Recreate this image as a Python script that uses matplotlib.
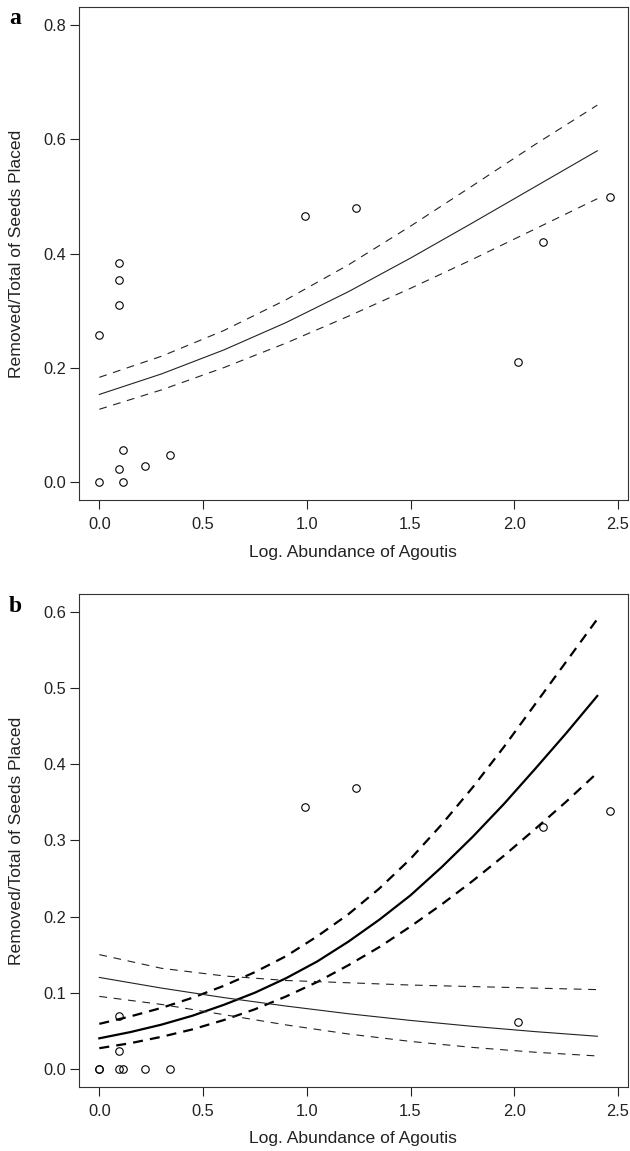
import numpy as np
import matplotlib
matplotlib.use("Agg")
import matplotlib.pyplot as plt

plt.rcParams['font.family'] = ['Liberation Sans', 'DejaVu Sans']

# observed proportions, panel a
xa = [0.0, 0.0, 0.093, 0.093, 0.093, 0.093, 0.116, 0.116, 0.222, 0.342,
      0.993, 1.236, 2.02, 2.136, 2.46]
ya = [0.0, 0.258, 0.383, 0.353, 0.309, 0.023, 0.055, 0.0, 0.028, 0.047,
      0.465, 0.479, 0.209, 0.421, 0.499]

# observed proportions, panel b
xb = [0.0, 0.0, 0.093, 0.093, 0.093, 0.116, 0.222, 0.342,
      0.993, 1.236, 2.02, 2.136, 2.46]
yb = [0.0, 0.0, 0.069, 0.023, 0.0, 0.0, 0.0, 0.0,
      0.344, 0.369, 0.062, 0.318, 0.339]

# fitted curves
xfit = [0.0, 0.3, 0.6, 0.9, 1.2, 1.5, 1.8, 2.1, 2.4]
fit_a = [0.153, 0.189, 0.231, 0.279, 0.333, 0.392, 0.454, 0.517, 0.580]
up_a = [0.183, 0.220, 0.265, 0.319, 0.380, 0.448, 0.519, 0.591, 0.660]
lo_a = [0.127, 0.161, 0.200, 0.243, 0.290, 0.339, 0.390, 0.443, 0.496]

xfit2 = [0.0, 0.15, 0.3, 0.45, 0.6, 0.75, 0.9, 1.05, 1.2, 1.35, 1.5,
         1.65, 1.8, 1.95, 2.1, 2.25, 2.4]
fit_b1 = [0.040, 0.0482, 0.058, 0.0698, 0.084, 0.100, 0.119, 0.141, 0.167,
          0.196, 0.228, 0.265, 0.305, 0.348, 0.394, 0.441, 0.490]
up_b1 = [0.059, 0.0688, 0.080, 0.0934, 0.109, 0.127, 0.148, 0.174, 0.203,
         0.237, 0.276, 0.321, 0.370, 0.423, 0.479, 0.535, 0.591]
lo_b1 = [0.027, 0.0336, 0.042, 0.0518, 0.064, 0.0782, 0.095, 0.114, 0.136,
         0.160, 0.187, 0.216, 0.247, 0.280, 0.315, 0.351, 0.389]

fit_b2 = [0.120, 0.106, 0.0935, 0.0824, 0.0723, 0.0635, 0.0557, 0.0488, 0.0427]
up_b2 = [0.150, 0.132, 0.122, 0.116, 0.113, 0.110, 0.108, 0.106, 0.104]
lo_b2 = [0.0951, 0.0845, 0.0711, 0.0576, 0.0457, 0.0359, 0.028, 0.0217, 0.0168]

xticks = [0.0, 0.5, 1.0, 1.5, 2.0, 2.5]
yticks_a = [0.0, 0.2, 0.4, 0.6, 0.8]
yticks_b = [0.0, 0.1, 0.2, 0.3, 0.4, 0.5, 0.6]

W, H = 630, 1151
fig = plt.figure(figsize=(W / 100, H / 100), dpi=100)

ink = '#222222'
xlab = 'Log. Abundance of Agoutis'
ylab = 'Removed/Total of Seeds Placed'


def style(ax, yticks, ylim):
    ax.set_xlim(-0.098, 2.548)
    ax.set_ylim(*ylim)
    ax.set_xticks(xticks)
    ax.set_xticklabels(['%.1f' % v for v in xticks])
    ax.set_yticks(yticks)
    ax.set_yticklabels(['%.1f' % v for v in yticks])
    ax.tick_params(direction='out', length=6.5, width=0.8, colors=ink,
                   labelsize=11.8, labelcolor=ink)
    ax.tick_params(axis='x', pad=6)
    ax.tick_params(axis='y', pad=3)
    for s in ax.spines.values():
        s.set_linewidth(0.8)
        s.set_color('#333333')


def pts(ax, x, y):
    ax.plot(x, y, 'o', ms=5.4, mfc='none', mec='black', mew=0.8, ls='none')


# panel a
ax1 = fig.add_axes([79 / W, 1 - 500 / H, 549 / W, 493 / H])
style(ax1, yticks_a, (-0.032, 0.832))
pts(ax1, xa, ya)
ax1.plot(xfit, fit_a, color=ink, lw=0.8)
ax1.plot(xfit, up_a, color=ink, lw=0.8, ls=(0, (7, 6)))
ax1.plot(xfit, lo_a, color=ink, lw=0.8, ls=(0, (7, 6)))

# panel b
ax2 = fig.add_axes([79 / W, 1 - 1087 / H, 549 / W, 493 / H])
style(ax2, yticks_b, (-0.024, 0.624))
pts(ax2, xb, yb)
ax2.plot(xfit2, fit_b1, color='black', lw=1.6)
ax2.plot(xfit2, up_b1, color='black', lw=1.6, ls=(0, (4.5, 3.2)))
ax2.plot(xfit2, lo_b1, color='black', lw=1.6, ls=(0, (4.5, 3.2)))
ax2.plot(xfit, fit_b2, color=ink, lw=0.8)
ax2.plot(xfit, up_b2, color=ink, lw=0.8, ls=(0, (7, 6)))
ax2.plot(xfit, lo_b2, color=ink, lw=0.8, ls=(0, (7, 6)))

# axis titles and panel letters
for top, bot, letter in [(7, 500, 'a'), (594, 1087, 'b')]:
    fig.text(353 / W, 1 - (bot + 52) / H, xlab, ha='center', va='center',
             fontsize=12.6, color=ink)
    fig.text(17 / W, 1 - (top + bot) / 2 / H, ylab, ha='center', va='center',
             rotation=90, fontsize=12.6, color=ink)
    fig.text(9 / W, 1 - (top + 12) / H, letter, ha='left', va='center',
             fontsize=17, fontweight='bold', family='Liberation Serif')

fig.savefig('out.png', dpi=100)
